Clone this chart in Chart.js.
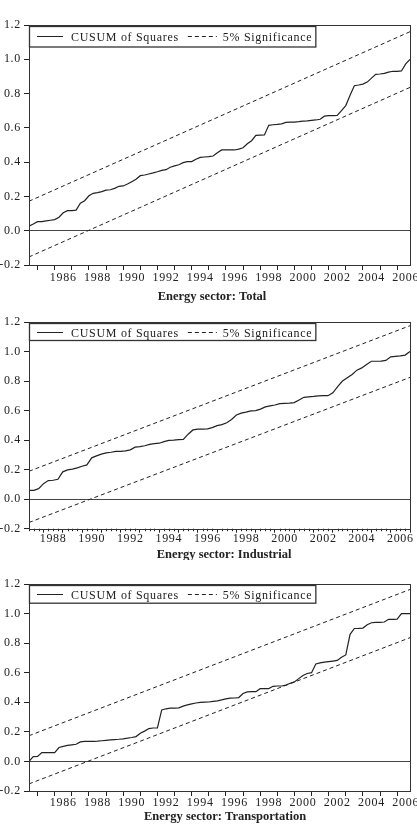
<!DOCTYPE html>
<html>
<head>
<meta charset="utf-8">
<script src="https://cdn.jsdelivr.net/npm/chart.js@4.4.1/dist/chart.umd.min.js"></script>
<style>
  html, body { margin: 0; padding: 0; background: #fff; }
  body { width: 417px; height: 837px; position: relative; overflow: hidden; }
  canvas { position: absolute; left: 0; }
</style>
</head>
<body>
<canvas id="total" width="417" height="305" style="top:0px"></canvas>
<canvas id="industrial" width="417" height="260" style="top:300px"></canvas>
<canvas id="transport" width="417" height="277" style="top:560px"></canvas>
<script>
// tick labels
const yTickValues = [-0.2, 0.0, 0.2, 0.4, 0.6, 0.8, 1.0, 1.2];
const labelYears = [1986, 1988, 1990, 1992, 1994, 1996, 1998, 2000, 2002, 2004, 2006];

// Energy sector: Total (quarterly, from 1984Q3)
const startTotal = 1984.5;
const cusumTotal = [
  0.026, 0.039, 0.053, 0.053, 0.057, 0.061, 0.065, 0.079, 0.105, 0.117,
  0.117, 0.120, 0.161, 0.175, 0.204, 0.218, 0.222, 0.228, 0.237, 0.239,
  0.247, 0.259, 0.261, 0.272, 0.286, 0.300, 0.321, 0.325, 0.331, 0.337,
  0.344, 0.352, 0.356, 0.370, 0.378, 0.385, 0.397, 0.403, 0.403, 0.417,
  0.428, 0.430, 0.432, 0.436, 0.455, 0.471, 0.471, 0.471, 0.471, 0.476,
  0.484, 0.507, 0.525, 0.556, 0.558, 0.559, 0.615, 0.618, 0.620, 0.623,
  0.632, 0.633, 0.634, 0.636, 0.639, 0.641, 0.644, 0.646, 0.650, 0.668,
  0.671, 0.671, 0.672, 0.700, 0.730, 0.790, 0.846, 0.850, 0.855, 0.867,
  0.890, 0.912, 0.914, 0.918, 0.925, 0.930, 0.930, 0.932, 0.973, 1.000
];
const sigUpperTotal = [0.172, 1.161];
const sigLowerTotal = [-0.153, 0.836];

// Energy sector: Industrial (quarterly, from 1987Q2)
const startIndustrial = 1987.25;
const cusumIndustrial = [
  0.060, 0.060, 0.071, 0.105, 0.126, 0.128, 0.135, 0.185, 0.198, 0.204,
  0.212, 0.223, 0.232, 0.280, 0.293, 0.305, 0.313, 0.318, 0.324, 0.324,
  0.327, 0.334, 0.352, 0.356, 0.362, 0.371, 0.376, 0.379, 0.390, 0.398,
  0.400, 0.403, 0.405, 0.440, 0.469, 0.474, 0.475, 0.476, 0.485, 0.498,
  0.505, 0.518, 0.540, 0.570, 0.583, 0.590, 0.598, 0.600, 0.610, 0.625,
  0.632, 0.638, 0.647, 0.649, 0.651, 0.654, 0.672, 0.690, 0.693, 0.696,
  0.700, 0.701, 0.701, 0.720, 0.762, 0.800, 0.822, 0.844, 0.874, 0.889,
  0.912, 0.934, 0.934, 0.935, 0.940, 0.964, 0.967, 0.970, 0.976, 1.000
];
const sigUpperIndustrial = [0.189, 1.175];
const sigLowerIndustrial = [-0.158, 0.825];

// Energy sector: Transportation (quarterly, from 1984Q3)
const startTransport = 1984.5;
const cusumTransport = [
  0.000, 0.032, 0.034, 0.060, 0.060, 0.060, 0.060, 0.094, 0.102, 0.108,
  0.112, 0.116, 0.132, 0.135, 0.136, 0.136, 0.137, 0.140, 0.143, 0.146,
  0.148, 0.150, 0.153, 0.157, 0.162, 0.168, 0.190, 0.205, 0.222, 0.226,
  0.226, 0.348, 0.356, 0.360, 0.361, 0.362, 0.374, 0.382, 0.389, 0.395,
  0.399, 0.401, 0.402, 0.406, 0.410, 0.416, 0.423, 0.428, 0.429, 0.432,
  0.459, 0.470, 0.472, 0.472, 0.492, 0.492, 0.493, 0.508, 0.510, 0.510,
  0.516, 0.529, 0.538, 0.560, 0.581, 0.595, 0.600, 0.659, 0.666, 0.671,
  0.675, 0.679, 0.683, 0.704, 0.720, 0.860, 0.899, 0.900, 0.902, 0.925,
  0.938, 0.941, 0.941, 0.943, 0.961, 0.961, 0.962, 1.000, 1.000, 1.000
];
const sigUpperTransport = [0.174, 1.163];
const sigLowerTransport = [-0.152, 0.837];

const ink = '#222';
const serif = "'Liberation Serif', 'Times New Roman', serif";

function quarterPoints(start, values) {
  return values.map((v, i) => ({ x: start + i * 0.25, y: v }));
}

function endPoints(start, n, pair) {
  return [{ x: start, y: pair[0] }, { x: start + (n - 1) * 0.25, y: pair[1] }];
}

// frame, boxed legend, quarter ticks and the caption under the axis
const panelDecor = {
  id: 'panelDecor',
  beforeDraw(chart) {
    chart.ctx.letterSpacing = '0.7px';
  },
  afterDraw(chart, args, o) {
    const { ctx, chartArea: a } = chart;
    const xs = chart.scales.x;
    ctx.save();

    if (o.quarterTicks) {
      ctx.strokeStyle = ink;
      ctx.lineWidth = 1;
      ctx.beginPath();
      for (let q = Math.ceil(xs.min * 4); q <= Math.floor(xs.max * 4); q++) {
        if (q % 4 === 0) continue;
        const px = Math.round(xs.getPixelForValue(q / 4)) + 0.5;
        ctx.moveTo(px, a.bottom);
        ctx.lineTo(px, a.bottom + 2.5);
      }
      ctx.stroke();
    }

    ctx.strokeStyle = '#333';
    ctx.lineWidth = 1;
    ctx.strokeRect(Math.round(a.left) + 0.5, Math.round(a.top) + 0.5,
      Math.round(a.right - a.left), Math.round(a.bottom - a.top));

    // legend box
    ctx.font = `12px ${serif}`;
    ctx.letterSpacing = '0.7px';
    const lab1 = chart.data.datasets[0].label;
    const lab2 = chart.data.datasets[1].label;
    const w1 = ctx.measureText(lab1).width;
    const w2 = ctx.measureText(lab2).width;
    const bx = a.left, by = a.top + 1, bh = o.legendHeight;
    const bw = 8 + 26 + 8 + w1 + 9 + 29 + 6 + w2 + 3;
    ctx.fillStyle = '#fff';
    ctx.fillRect(bx, by, bw, bh);
    ctx.strokeStyle = '#333';
    ctx.lineWidth = 1.3;
    ctx.strokeRect(bx + 0.5, by + 0.5, bw, bh);
    const my = Math.round(by + bh / 2) + 0.5;
    let cx = bx + 8;
    ctx.strokeStyle = ink;
    ctx.lineWidth = 1;
    ctx.beginPath(); ctx.moveTo(cx, my); ctx.lineTo(cx + 26, my); ctx.stroke();
    cx += 34;
    ctx.fillStyle = ink;
    ctx.textAlign = 'left';
    ctx.textBaseline = 'middle';
    ctx.fillText(lab1, cx, my + 1);
    cx += w1 + 9;
    ctx.setLineDash([4, 3]);
    ctx.beginPath(); ctx.moveTo(cx, my); ctx.lineTo(cx + 29, my); ctx.stroke();
    ctx.setLineDash([]);
    cx += 35;
    ctx.fillText(lab2, cx, my + 1);

    // caption
    ctx.letterSpacing = '0px';
    ctx.font = `bold 12.5px ${serif}`;
    ctx.textAlign = 'center';
    ctx.fillText(o.title, o.titleX, a.bottom + o.titleGap);
    ctx.restore();
  }
};

function makePanel(id, start, cusum, upper, lower, p) {
  const n = cusum.length;
  const xMin = start;
  const xMax = start + (n - 1) * 0.25;
  return new Chart(document.getElementById(id), {
    type: 'line',
    data: {
      datasets: [
        { label: 'CUSUM of Squares', data: quarterPoints(start, cusum),
          borderColor: ink, borderWidth: 1.2, pointRadius: 0, tension: 0 },
        { label: '5% Significance', data: endPoints(start, n, upper),
          borderColor: ink, borderWidth: 1, borderDash: [4, 3], pointRadius: 0 },
        { label: '5% Significance', data: endPoints(start, n, lower),
          borderColor: ink, borderWidth: 1, borderDash: [4, 3], pointRadius: 0 }
      ]
    },
    options: {
      responsive: false,
      animation: false,
      devicePixelRatio: 1,
      layout: { padding: { top: p.padTop, right: 7, bottom: p.padBottom, left: 0 } },
      plugins: {
        legend: { display: false },
        tooltip: { enabled: false },
        panelDecor: p
      },
      scales: {
        x: {
          type: 'linear',
          min: xMin,
          max: xMax,
          afterBuildTicks(scale) {
            const ticks = [];
            for (let y = Math.ceil(xMin); y <= xMax; y++) ticks.push({ value: y });
            labelYears.forEach(y => {
              if (y + 0.5 > xMin && y + 0.5 < xMax) ticks.push({ value: y + 0.5 });
            });
            ticks.sort((m, k) => m.value - k.value);
            scale.ticks = ticks;
          },
          afterFit(scale) {
            scale.height = 20;
            scale.paddingLeft = 0;
            scale.paddingRight = 0;
          },
          border: { display: false },
          grid: {
            drawOnChartArea: false,
            tickLength: p.tickLength,
            tickColor: ctx => (ctx.tick && Number.isInteger(ctx.tick.value)) ? ink : 'rgba(0,0,0,0)'
          },
          ticks: {
            autoSkip: false,
            maxRotation: 0,
            padding: p.tickPad,
            color: ink,
            font: { family: serif, size: 12 },
            callback: v => Number.isInteger(v) ? '' : String(Math.floor(v))
          }
        },
        y: {
          min: -0.2,
          max: 1.2,
          afterBuildTicks(scale) {
            scale.ticks = yTickValues.map(v => ({ value: v }));
          },
          afterFit(scale) {
            scale.width = 29;
            scale.paddingTop = 0;
            scale.paddingBottom = 0;
          },
          border: { display: false },
          grid: {
            drawOnChartArea: true,
            lineWidth: 1,
            color: ctx => (ctx.tick && Math.abs(ctx.tick.value) < 1e-9) ? '#444' : 'rgba(0,0,0,0)',
            tickColor: ink,
            tickLength: 5
          },
          ticks: {
            padding: 3,
            color: ink,
            font: { family: serif, size: 12 },
            callback: v => v.toFixed(1)
          }
        }
      }
    },
    plugins: [panelDecor]
  });
}

makePanel('total', startTotal, cusumTotal, sigUpperTotal, sigLowerTotal, {
  padTop: 25, padBottom: 20, tickLength: 5, tickPad: 1, quarterTicks: false,
  legendHeight: 20.5, title: 'Energy sector: Total', titleX: 212, titleGap: 32
});

makePanel('industrial', startIndustrial, cusumIndustrial, sigUpperIndustrial, sigLowerIndustrial, {
  padTop: 22, padBottom: 11.3, tickLength: 4, tickPad: -1, quarterTicks: true,
  legendHeight: 17, title: 'Energy sector: Industrial', titleX: 224, titleGap: 25.6
});

makePanel('transport', startTransport, cusumTransport, sigUpperTransport, sigLowerTransport, {
  padTop: 24, padBottom: 26, tickLength: 5, tickPad: 0, quarterTicks: false,
  legendHeight: 17.7, title: 'Energy sector: Transportation', titleX: 225, titleGap: 25.7
});
</script>
</body>
</html>
